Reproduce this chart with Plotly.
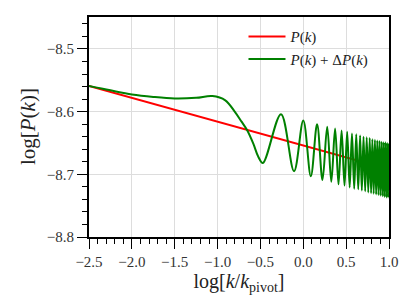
import plotly.graph_objects as go

# Reference power spectrum P(k) (straight line in log-log)
red_x = [-2.5, -1.5, 0.0, 1.0]
red_y = [-8.559, -8.597, -8.654, -8.692]

# P(k) + ΔP(k): smooth part, then oscillation extrema
smooth_x = [-2.5, -2.25, -2.0, -1.75, -1.5, -1.25, -1.06, -0.91, -0.80, -0.72, -0.653, -0.583, -0.525]
smooth_y = [-8.559, -8.566, -8.5725, -8.5765, -8.579, -8.578, -8.5752, -8.582, -8.600, -8.616, -8.630, -8.651, -8.672]

peak_x = [-0.26, 0.0, 0.161, 0.279, 0.371, 0.447, 0.512, 0.568, 0.618, 0.663, 0.703,
          0.740, 0.775, 0.806, 0.836, 0.863, 0.889, 0.914, 0.937, 0.959, 0.980, 1.0]
peak_y = [-8.604, -8.614, -8.620, -8.624, -8.627, -8.630, -8.632, -8.635, -8.636, -8.638, -8.640,
          -8.641, -8.642, -8.644, -8.645, -8.646, -8.647, -8.648, -8.649, -8.649, -8.650, -8.651]

trough_x = [-0.472, -0.108, 0.088, 0.224, 0.327, 0.411, 0.481, 0.541, 0.594, 0.641, 0.683,
            0.722, 0.758, 0.791, 0.821, 0.850, 0.877, 0.902, 0.926, 0.948, 0.970, 0.990]
trough_y = [-8.682, -8.695, -8.703, -8.709, -8.712, -8.716, -8.718, -8.721, -8.723, -8.724, -8.726,
            -8.727, -8.729, -8.730, -8.731, -8.732, -8.733, -8.734, -8.735, -8.736, -8.737, -8.737]

pts = sorted(zip(smooth_x + peak_x + trough_x, smooth_y + peak_y + trough_y))
green_x = [p[0] for p in pts]
green_y = [p[1] for p in pts]

xticks = [-2.5, -2.0, -1.5, -1.0, -0.5, 0.0, 0.5, 1.0]
yticks = [-8.8, -8.7, -8.6, -8.5]

def lab(v):
    s = f"{abs(v):.1f}"
    return ("\u2212" + s) if v < 0 else s

serif = "Liberation Serif, DejaVu Serif, serif"

fig = go.Figure()
fig.add_trace(go.Scatter(x=red_x, y=red_y, mode="lines", name="<i>P</i>(<i>k</i>)",
                         line=dict(color="#ff0000", width=2)))
fig.add_trace(go.Scatter(x=green_x, y=green_y, mode="lines",
                         name="<i>P</i>(<i>k</i>) + Δ<i>P</i>(<i>k</i>)",
                         line=dict(color="#008000", width=2, shape="spline", smoothing=1.0)))

fig.add_annotation(text="log[<i>P</i>(<i>k</i>)]", xref="paper", yref="paper",
                   x=-0.203, y=0.5, xanchor="center", yanchor="middle", textangle=-90,
                   showarrow=False, font=dict(size=21, family=serif, color="#222222"))

fig.update_layout(
    width=407, height=305,
    margin=dict(l=89, r=18, t=17, b=68, autoexpand=False),
    paper_bgcolor="white", plot_bgcolor="white",
    font=dict(family=serif, color="#222222", size=14),
    showlegend=True,
    legend=dict(x=0.515, y=0.985, xanchor="left", yanchor="top",
                bgcolor="rgba(0,0,0,0)", font=dict(size=15, family=serif),
                itemwidth=37, tracegroupgap=0),
    xaxis=dict(range=[-2.5, 1.0], tickvals=xticks, ticktext=[lab(v) for v in xticks],
               showgrid=True, gridcolor="#dddddd", gridwidth=1,
               showline=True, linecolor="black", linewidth=2, mirror=True,
               ticks="outside", ticklen=10, tickwidth=1.2, tickcolor="black",
               minor=dict(dtick=0.1, tick0=0, ticks="outside", ticklen=5, tickwidth=1, tickcolor="black", showgrid=False),
               zeroline=False,
               title=dict(text="log[<i>k</i>/<i>k</i><sub>pivot</sub>]", font=dict(size=20, family=serif), standoff=0),
               tickfont=dict(size=15, family=serif, color="#333333")),
    yaxis=dict(range=[-8.8, -8.449], tickvals=yticks, ticktext=[lab(v) for v in yticks],
               showgrid=True, gridcolor="#dddddd", gridwidth=1,
               showline=True, linecolor="black", linewidth=2, mirror=True,
               ticks="outside", ticklen=10, tickwidth=1.2, tickcolor="black",
               minor=dict(dtick=0.02, tick0=-8.8, ticks="outside", ticklen=5, tickwidth=1, tickcolor="black", showgrid=False),
               zeroline=False,
               tickfont=dict(size=15, family=serif, color="#333333")),
)

fig.write_html("out.html", config={"displayModeBar": False},
               post_script="document.body.style.margin='0';document.body.style.overflow='hidden';")
